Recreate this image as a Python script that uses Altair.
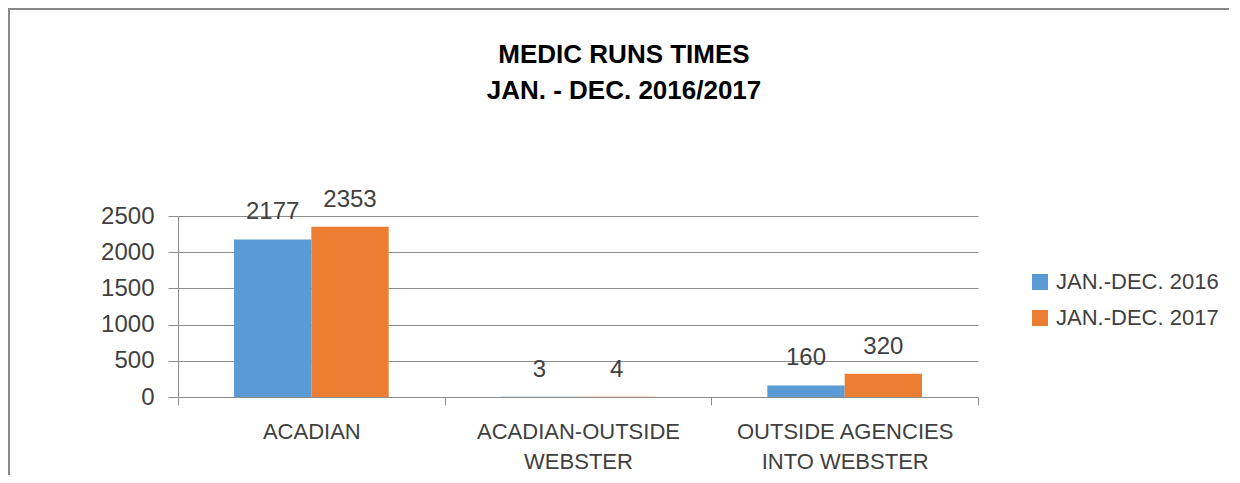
import altair as alt
import pandas as pd

categories = ["ACADIAN", "ACADIAN-OUTSIDE WEBSTER", "OUTSIDE AGENCIES INTO WEBSTER"]
label_lines = [["ACADIAN"], ["ACADIAN-OUTSIDE", "WEBSTER"], ["OUTSIDE AGENCIES", "INTO WEBSTER"]]
series = ["JAN.-DEC. 2016", "JAN.-DEC. 2017"]
values_2016 = [2177, 3, 160]
values_2017 = [2353, 4, 320]
y_ticks = [0, 500, 1000, 1500, 2000, 2500]
colors = ["#5B9BD5", "#ED7D31"]
title_lines = ["MEDIC RUNS TIMES", "JAN. - DEC. 2016/2017"]

rows = []
for c, a, b in zip(categories, values_2016, values_2017):
    rows.append({"category": c, "series": series[0], "value": a})
    rows.append({"category": c, "series": series[1], "value": b})
df = pd.DataFrame(rows)

expr = "datum.label"
for c, lines in reversed(list(zip(categories, label_lines))):
    arr = "[" + ",".join("'" + l + "'" for l in lines) + "]"
    expr = f"datum.label === '{c}' ? {arr} : ({expr})"

GRAY = "#8c8c8c"
TXT = "#404040"
FONT = "Liberation Sans"

base = alt.Chart(df).encode(
    x=alt.X(
        "category:N",
        sort=categories,
        scale=alt.Scale(paddingInner=0, paddingOuter=0),
        axis=alt.Axis(
            title=None, labelAngle=0, labelExpr=expr, labelFontSize=22,
            labelLineHeight=30, labelPadding=16, tickSize=8, tickColor=GRAY,
            domainColor=GRAY, tickBand="extent", labelColor=TXT, grid=False,
            labelFont=FONT, labelLimit=500,
        ),
    ),
    xOffset=alt.XOffset("series:N", sort=series,
                        scale=alt.Scale(paddingOuter=0.724, paddingInner=0)),
    y=alt.Y(
        "value:Q",
        scale=alt.Scale(domain=[0, 2500], nice=False),
        axis=alt.Axis(
            values=y_ticks, format="d", title=None, tickSize=10, labelPadding=14,
            labelFontSize=24, labelColor=TXT, gridColor=GRAY, domainColor=GRAY,
            tickColor=GRAY, labelFont=FONT,
        ),
    ),
)

bars = base.mark_bar().encode(
    color=alt.Color(
        "series:N", sort=series,
        scale=alt.Scale(domain=series, range=colors),
        legend=alt.Legend(
            title=None, orient="none", legendX=851, legendY=55,
            symbolType="square", symbolSize=256, labelFontSize=22,
            rowPadding=14, labelOffset=5, symbolStrokeWidth=0, padding=0,
            labelColor=TXT, labelFont=FONT, labelLimit=500,
        ),
    )
)

labels = base.mark_text(baseline="middle", dy=-27, fontSize=24, color=TXT, font=FONT).encode(
    text="value:Q"
)

frame_src = alt.Chart(pd.DataFrame({"d": [0]}))
frame_top = frame_src.mark_rule(color="#888888", strokeWidth=2).encode(
    x=alt.value(-170), x2=alt.value(1051), y=alt.value(-207)
)
frame_left = frame_src.mark_rule(color="#888888", strokeWidth=2).encode(
    x=alt.value(-169), y=alt.value(-208), y2=alt.value(300)
)

chart = alt.layer(frame_top, frame_left, bars, labels).properties(
    width=800,
    height=181,
    autosize=alt.AutoSizeParams(type="none"),
    padding={"left": 170, "top": 208, "right": 254, "bottom": 78},
    title=alt.TitleParams(
        text=title_lines, fontSize=26, font=FONT, fontWeight="bold", color="black",
        lineHeight=36.5, anchor="middle", dx=46, offset=0, dy=97,
    ),
).configure_view(stroke=None)

chart.save("out.html", embed_options={"renderer": "svg", "actions": False})
